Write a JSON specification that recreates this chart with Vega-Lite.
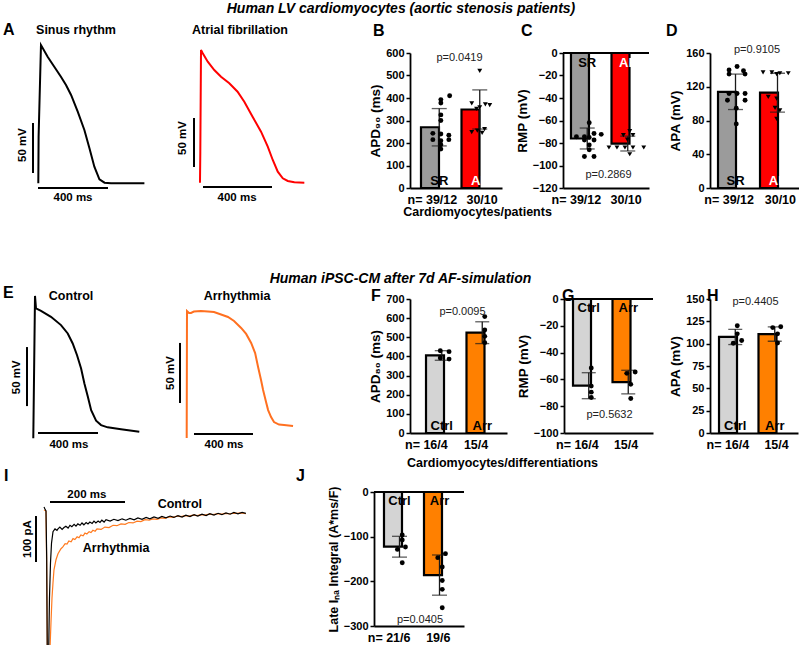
{
"$schema": "https://vega.github.io/schema/vega-lite/v6.json",
"background": "white",
"padding": {"left": 2, "top": 2, "right": 0, "bottom": 0},
"spacing": -1,
"config": {
  "font": "Liberation Sans",
  "view": {"stroke": null},
  "axis": {"domainColor": "black", "tickColor": "black", "labelColor": "black", "titleColor": "black", "labelFontWeight": "bold", "titleFontWeight": "bold", "grid": false, "domainWidth": 1.8, "tickWidth": 1.5, "labelFont": "Liberation Sans", "titleFont": "Liberation Sans"},
  "axisY": {"tickSize": 4, "labelFontSize": 11, "titleFontSize": 13.5, "labelPadding": 2, "titlePadding": 3},
  "axisX": {"ticks": false, "labelAngle": 0, "labelFontSize": 12.5, "labelPadding": 5, "labelAlign": "right", "titleFontSize": 12.5, "titlePadding": 0},
  "title": {"font": "Liberation Sans", "fontWeight": "bold", "color": "black"},
  "text": {"font": "Liberation Sans", "fontWeight": "bold", "color": "black", "baseline": "middle"}
},
"vconcat": [
{
  "title": {"text": "Human LV cardiomyocytes (aortic stenosis patients)", "anchor": "middle", "frame": "bounds", "fontSize": 14, "fontStyle": "italic", "offset": 6},
  "bounds": "flush",
  "spacing": 61,
  "hconcat": [
    {
      "width": 89, "height": 135,
      "encoding": {
        "x": {"field": "t", "type": "quantitative", "scale": {"domain": [-68.6, 440], "nice": false, "zero": false}, "axis": null},
        "y": {"field": "v", "type": "quantitative", "scale": {"domain": [-85, 50], "nice": false, "zero": false}, "axis": null}
      },
      "layer": [
        {"data": {"values": [{"t":1.7,"v":-80.3},{"t":3.4,"v":-34},{"t":17,"v":58},{"t":55,"v":46.3},{"t":93,"v":36.3},{"t":131,"v":26.3},{"t":160,"v":18},{"t":189,"v":8},{"t":227,"v":-8.7},{"t":265,"v":-27},{"t":294,"v":-45.3},{"t":322,"v":-63.7},{"t":351,"v":-76.3},{"t":380,"v":-79.7},{"t":417,"v":-80.3},{"t":500,"v":-80.3},{"t":608,"v":-80.3}]},
         "mark": {"type": "line", "color": "black", "strokeWidth": 2}},
        {"data": {"values": [{"t":-28.6,"t2":-28.6,"v":-70,"v2":-20},{"t":0,"t2":400,"v":-85,"v2":-85}]},
         "mark": {"type": "rule", "color": "black", "strokeWidth": 2},
         "encoding": {"x2": {"field": "t2"}, "y2": {"field": "v2"}}},
        {"data": {"values": [{"t":217,"v":73,"label":"Sinus rhythm"}]},
         "mark": {"type": "text", "fontSize": 12.5}, "encoding": {"text": {"field": "label"}}},
        {"data": {"values": [{"t":200,"v":-95,"label":"400 ms"}]},
         "mark": {"type": "text", "fontSize": 11.5}, "encoding": {"text": {"field": "label"}}},
        {"data": {"values": [{"t":-86,"v":-42,"label":"50 mV"}]},
         "mark": {"type": "text", "fontSize": 11.5, "angle": 270}, "encoding": {"text": {"field": "label"}}},
        {"data": {"values": [{"t":-200,"v":73,"label":"A"}]},
         "mark": {"type": "text", "fontSize": 16, "align": "left"}, "encoding": {"text": {"field": "label"}}}
      ]
    },
    {
      "width": 173, "height": 135,
      "encoding": {
        "x": {"field": "t", "type": "quantitative", "scale": {"domain": [-145, 858], "nice": false, "zero": false}, "axis": null},
        "y": {"field": "v", "type": "quantitative", "scale": {"domain": [-85, 50], "nice": false, "zero": false}, "axis": null}
      },
      "layer": [
        {"data": {"values": [{"t":-6,"v":-79.7},{"t":-4,"v":-48.7},{"t":0,"v":53},{"t":10,"v":49.7},{"t":39,"v":41.3},{"t":77,"v":33},{"t":116,"v":26.3},{"t":164,"v":19.7},{"t":212,"v":11.3},{"t":251,"v":1.3},{"t":299,"v":-13.7},{"t":348,"v":-28.7},{"t":387,"v":-43.7},{"t":416,"v":-57},{"t":445,"v":-68.7},{"t":474,"v":-75.3},{"t":503,"v":-78},{"t":541,"v":-79.3},{"t":599,"v":-79.7}]},
         "mark": {"type": "line", "color": "#ff0000", "strokeWidth": 2}},
        {"data": {"values": [{"t":-40.6,"t2":-40.6,"v":-64,"v2":-15},{"t":11.6,"t2":411.6,"v":-84,"v2":-84}]},
         "mark": {"type": "rule", "color": "black", "strokeWidth": 2},
         "encoding": {"x2": {"field": "t2"}, "y2": {"field": "v2"}}},
        {"data": {"values": [{"t":226,"v":73,"label":"Atrial fibrillation"}]},
         "mark": {"type": "text", "fontSize": 12.5}, "encoding": {"text": {"field": "label"}}},
        {"data": {"values": [{"t":209,"v":-95,"label":"400 ms"}]},
         "mark": {"type": "text", "fontSize": 11.5}, "encoding": {"text": {"field": "label"}}},
        {"data": {"values": [{"t":-104,"v":-35,"label":"50 mV"}]},
         "mark": {"type": "text", "fontSize": 11.5, "angle": 270}, "encoding": {"text": {"field": "label"}}}
      ]
    },
    {
      "width": 92, "height": 135,
      "encoding": {"y": {"field": "value", "type": "quantitative", "scale": {"domain": [0, 600], "nice": false}, "axis": {"title": "APD₉₀ (ms)", "values": [0,100,200,300,400,500,600]}}},
      "layer": [
        {"data": {"values": [{"group":"SR","value":270,"sd":83},{"group":"AF","value":349,"sd":87}]},
         "mark": {"type": "bar", "stroke": "black", "strokeWidth": 2.2},
         "encoding": {
           "x": {"field": "group", "type": "nominal", "sort": ["SR","AF"], "scale": {"domain": ["SR","AF"], "paddingInner": 0.099, "paddingOuter": 0.185, "align": 0.733}, "axis": {"title": "Cardiomyocytes/patients", "titleX": 67, "labelOffset": 18, "labelExpr": "datum.value === 'SR' ? 'n= 39/12' : '30/10'"}},
           "color": {"field": "group", "type": "nominal", "scale": {"domain": ["SR","AF","Ctrl","Arr"], "range": ["#9b9b9b","#ff0000","#d4d4d4","#ff8000"]}, "legend": null}}},
        {"data": {"values": [{"group":"SR","value":270,"sd":83},{"group":"AF","value":349,"sd":87}]},
         "mark": {"type": "errorbar", "color": "#1a1a1a", "thickness": 1.3, "ticks": {"size": 15}},
         "encoding": {"x": {"field": "group", "type": "nominal"}, "yError": {"field": "sd"}}},
        {"data": {"values": [
           {"group":"SR","value":410,"col":1.3},{"group":"SR","value":393,"col":0.2},{"group":"SR","value":378,"col":0.2},{"group":"SR","value":325,"col":0.2},{"group":"SR","value":300,"col":0.2},{"group":"SR","value":243,"col":-0.8},{"group":"SR","value":240,"col":0.2},{"group":"SR","value":235,"col":1.2},{"group":"SR","value":215,"col":-0.8},{"group":"SR","value":210,"col":0.2},{"group":"SR","value":215,"col":1.2},{"group":"SR","value":192,"col":0.2},{"group":"SR","value":173,"col":0.2},
           {"group":"AF","value":521,"col":0},{"group":"AF","value":376,"col":-1},{"group":"AF","value":372,"col":0.7},{"group":"AF","value":368,"col":1.25},{"group":"AF","value":358,"col":0},{"group":"AF","value":352,"col":-0.4},{"group":"AF","value":262,"col":0.6},{"group":"AF","value":255,"col":-0.3},{"group":"AF","value":248,"col":-1},{"group":"AF","value":245,"col":0.3}]},
         "mark": {"type": "point", "filled": true, "color": "black", "opacity": 1, "size": 24},
         "encoding": {
           "x": {"field": "group", "type": "nominal", "bandPosition": 0},
           "xOffset": {"field": "col", "type": "quantitative", "scale": {"domain": [-3, 3], "range": [-5.75, 42.25]}},
           "shape": {"field": "group", "type": "nominal", "scale": {"domain": ["SR","AF"], "range": ["circle","triangle-down"]}, "legend": null}}},
        {"data": {"values": [{"group":"SR","value":0}]},
         "mark": {"type": "text", "fontSize": 13, "baseline": "alphabetic", "dy": -3, "color": "black"},
         "encoding": {"x": {"field": "group", "type": "nominal"}, "text": {"field": "group"}}},
        {"data": {"values": [{"group":"AF","value":0}]},
         "mark": {"type": "text", "fontSize": 13, "baseline": "alphabetic", "dy": -3, "color": "white"},
         "encoding": {"x": {"field": "group", "type": "nominal"}, "text": {"value": "AF"}}},
        {"data": {"values": [{"p":"p=0.0419","value":578}]},
         "mark": {"type": "text", "fontWeight": "normal", "fontSize": 11, "dx": -2, "color": "#222222"},
         "encoding": {"x": {"datum": "AF", "type": "nominal", "bandPosition": 0}, "text": {"field": "p"}}},
        {"data": {"values": [{"label":"B","value":698}]},
         "mark": {"type": "text", "fontSize": 16, "align": "left", "dx": -48},
         "encoding": {"x": {"datum": "SR", "type": "nominal", "bandPosition": 0}, "text": {"field": "label"}}}
      ]
    },
    {
      "width": 86, "height": 135,
      "encoding": {"y": {"field": "value", "type": "quantitative", "scale": {"domain": [-120, 0], "nice": false}, "axis": {"title": "RMP (mV)", "values": [0,-20,-40,-60,-80,-100,-120]}}},
      "layer": [
        {"data": {"values": [{"group":"SR","value":-76,"sd":9.3},{"group":"AF","value":-80.5,"sd":6.6}]},
         "mark": {"type": "bar", "stroke": "black", "strokeWidth": 2.2},
         "encoding": {
           "x": {"field": "group", "type": "nominal", "sort": ["SR","AF"], "scale": {"domain": ["SR","AF"], "paddingInner": 0.198, "paddingOuter": 0.16, "align": 0.615}, "axis": {"title": null, "labelOffset": 14, "labelExpr": "datum.value === 'SR' ? 'n= 39/12' : '30/10'"}},
           "color": {"field": "group", "type": "nominal", "scale": {"domain": ["SR","AF","Ctrl","Arr"], "range": ["#9b9b9b","#ff0000","#d4d4d4","#ff8000"]}, "legend": null}}},
        {"data": {"values": [{"value":0}]}, "mark": {"type": "rule", "color": "black", "strokeWidth": 1.8}, "encoding": {}},
        {"data": {"values": [{"group":"SR","value":-76,"sd":9.3},{"group":"AF","value":-80.5,"sd":6.6}]},
         "mark": {"type": "errorbar", "color": "#1a1a1a", "thickness": 1.3, "ticks": {"size": 15}},
         "encoding": {"x": {"field": "group", "type": "nominal"}, "yError": {"field": "sd"}}},
        {"data": {"values": [
           {"group":"SR","value":-62,"col":0},{"group":"SR","value":-74.4,"col":-1.6},{"group":"SR","value":-74.4,"col":-0.6},{"group":"SR","value":-71.5,"col":0.6},{"group":"SR","value":-72.3,"col":1.5},{"group":"SR","value":-77.3,"col":-0.6},{"group":"SR","value":-77.3,"col":0.6},{"group":"SR","value":-81.7,"col":0},{"group":"SR","value":-86,"col":0},{"group":"SR","value":-92,"col":-0.6},{"group":"SR","value":-92,"col":0.6},{"group":"SR","value":-75,"col":0},
           {"group":"AF","value":-69.5,"col":0},{"group":"AF","value":-73,"col":-0.8},{"group":"AF","value":-73,"col":0.4},{"group":"AF","value":-84,"col":-2.6},{"group":"AF","value":-84,"col":-1.6},{"group":"AF","value":-84,"col":-0.6},{"group":"AF","value":-84,"col":0.4},{"group":"AF","value":-84,"col":1.75},{"group":"AF","value":-90,"col":0},{"group":"AF","value":-77,"col":-0.3}]},
         "mark": {"type": "point", "filled": true, "color": "black", "opacity": 1, "size": 24},
         "encoding": {
           "x": {"field": "group", "type": "nominal", "bandPosition": 0},
           "xOffset": {"field": "col", "type": "quantitative", "scale": {"domain": [-3, 3], "range": [-7.75, 40.25]}},
           "shape": {"field": "group", "type": "nominal", "scale": {"domain": ["SR","AF"], "range": ["circle","triangle-down"]}, "legend": null}}},
        {"data": {"values": [{"group":"SR","value":0}]},
         "mark": {"type": "text", "fontSize": 13, "baseline": "top", "dy": 4, "color": "black"},
         "encoding": {"x": {"field": "group", "type": "nominal"}, "text": {"field": "group"}}},
        {"data": {"values": [{"group":"AF","value":0}]},
         "mark": {"type": "text", "fontSize": 13, "baseline": "top", "dy": 4, "color": "white"},
         "encoding": {"x": {"field": "group", "type": "nominal"}, "text": {"value": "AF"}}},
        {"data": {"values": [{"p":"p=0.2869","value":-108.4}]},
         "mark": {"type": "text", "fontWeight": "normal", "fontSize": 11, "dx": -3, "color": "#222222"},
         "encoding": {"x": {"datum": "AF", "type": "nominal", "bandPosition": 0}, "text": {"field": "p"}}},
        {"data": {"values": [{"label":"C","value":19.6}]},
         "mark": {"type": "text", "fontSize": 16, "align": "left", "dx": -50},
         "encoding": {"x": {"datum": "SR", "type": "nominal", "bandPosition": 0}, "text": {"field": "label"}}}
      ]
    },
    {
      "width": 89, "height": 135,
      "encoding": {"y": {"field": "value", "type": "quantitative", "scale": {"domain": [0, 160], "nice": false}, "axis": {"title": "APA (mV)", "values": [0,40,80,120,160]}}},
      "layer": [
        {"data": {"values": [{"group":"SR","value":114,"sd":21},{"group":"AF","value":113,"sd":23}]},
         "mark": {"type": "bar", "stroke": "black", "strokeWidth": 2.2},
         "encoding": {
           "x": {"field": "group", "type": "nominal", "sort": ["SR","AF"], "scale": {"domain": ["SR","AF"], "paddingInner": 0.167, "paddingOuter": 0.143, "align": 0.667}, "axis": {"title": null, "labelOffset": 18.5, "labelExpr": "datum.value === 'SR' ? 'n= 39/12' : '30/10'"}},
           "color": {"field": "group", "type": "nominal", "scale": {"domain": ["SR","AF","Ctrl","Arr"], "range": ["#9b9b9b","#ff0000","#d4d4d4","#ff8000"]}, "legend": null}}},
        {"data": {"values": [{"group":"SR","value":114,"sd":21},{"group":"AF","value":113,"sd":23}]},
         "mark": {"type": "errorbar", "color": "#1a1a1a", "thickness": 1.3, "ticks": {"size": 15}},
         "encoding": {"x": {"field": "group", "type": "nominal"}, "yError": {"field": "sd"}}},
        {"data": {"values": [
           {"group":"SR","value":144,"col":0.1},{"group":"SR","value":140,"col":-0.9},{"group":"SR","value":139,"col":0.9},{"group":"SR","value":135,"col":-0.9},{"group":"SR","value":135,"col":1.1},{"group":"SR","value":112,"col":-0.9},{"group":"SR","value":112,"col":0.1},{"group":"SR","value":112,"col":1.1},{"group":"SR","value":104,"col":-1.1},{"group":"SR","value":104,"col":1.1},{"group":"SR","value":94.5,"col":0},{"group":"SR","value":76,"col":0},
           {"group":"AF","value":137,"col":-1.9},{"group":"AF","value":137,"col":-0.8},{"group":"AF","value":136,"col":0.2},{"group":"AF","value":136,"col":1.25},{"group":"AF","value":135,"col":-0.2},{"group":"AF","value":108,"col":-1.25},{"group":"AF","value":106,"col":-0.2},{"group":"AF","value":95,"col":-0.4},{"group":"AF","value":92,"col":0.2},{"group":"AF","value":82,"col":-0.2}]},
         "mark": {"type": "point", "filled": true, "color": "black", "opacity": 1, "size": 24},
         "encoding": {
           "x": {"field": "group", "type": "nominal", "bandPosition": 0},
           "xOffset": {"field": "col", "type": "quantitative", "scale": {"domain": [-3, 3], "range": [-6.5, 41.5]}},
           "shape": {"field": "group", "type": "nominal", "scale": {"domain": ["SR","AF"], "range": ["circle","triangle-down"]}, "legend": null}}},
        {"data": {"values": [{"group":"SR","value":0}]},
         "mark": {"type": "text", "fontSize": 13, "baseline": "alphabetic", "dy": -3, "color": "black"},
         "encoding": {"x": {"field": "group", "type": "nominal"}, "text": {"field": "group"}}},
        {"data": {"values": [{"group":"AF","value":0}]},
         "mark": {"type": "text", "fontSize": 13, "baseline": "alphabetic", "dy": -3, "color": "white"},
         "encoding": {"x": {"field": "group", "type": "nominal"}, "text": {"value": "AF"}}},
        {"data": {"values": [{"p":"p=0.9105","value":163.6}]},
         "mark": {"type": "text", "fontWeight": "normal", "fontSize": 11, "dx": -3, "color": "#222222"},
         "encoding": {"x": {"datum": "AF", "type": "nominal", "bandPosition": 0}, "text": {"field": "p"}}},
        {"data": {"values": [{"label":"D","value":186}]},
         "mark": {"type": "text", "fontSize": 16, "align": "left", "dx": -52},
         "encoding": {"x": {"datum": "SR", "type": "nominal", "bandPosition": 0}, "text": {"field": "label"}}}
      ]
    }
  ]
},
{
  "title": {"text": ["", "Human iPSC-CM after 7d AF-simulation"], "lineHeight": 54, "anchor": "middle", "frame": "bounds", "fontSize": 14, "fontStyle": "italic", "offset": -1},
  "bounds": "flush",
  "spacing": 57,
  "hconcat": [
    {
      "width": 83, "height": 134,
      "encoding": {
        "x": {"field": "t", "type": "quantitative", "scale": {"domain": [-51.3, 502], "nice": false, "zero": false}, "axis": null},
        "y": {"field": "v", "type": "quantitative", "scale": {"domain": [-84.2, 29.3], "nice": false, "zero": false}, "axis": null}
      },
      "layer": [
        {"data": {"values": [{"t":-2.7,"v":-88.7},{"t":8.7,"v":31.9},{"t":15.3,"v":21.4},{"t":48.7,"v":19.3},{"t":115,"v":14.2},{"t":182,"v":7.2},{"t":227,"v":0.1},{"t":260,"v":-8.4},{"t":289,"v":-18.3},{"t":316,"v":-29.6},{"t":338,"v":-42.3},{"t":361,"v":-53.6},{"t":383,"v":-64.9},{"t":416,"v":-73.8},{"t":449,"v":-77.5},{"t":493,"v":-79.4},{"t":582,"v":-81.1},{"t":704,"v":-83.1}]},
         "mark": {"type": "line", "color": "black", "strokeWidth": 2}},
        {"data": {"values": [{"t":-44.7,"t2":-44.7,"v":-61.4,"v2":-11.4},{"t":28.7,"t2":428.7,"v":-84.2,"v2":-84.2}]},
         "mark": {"type": "rule", "color": "black", "strokeWidth": 2},
         "encoding": {"x2": {"field": "t2"}, "y2": {"field": "v2"}}},
        {"data": {"values": [{"t":249,"v":31.9,"label":"Control"}]},
         "mark": {"type": "text", "fontSize": 12.5}, "encoding": {"text": {"field": "label"}}},
        {"data": {"values": [{"t":235,"v":-94.4,"label":"400 ms"}]},
         "mark": {"type": "text", "fontSize": 11.5}, "encoding": {"text": {"field": "label"}}},
        {"data": {"values": [{"t":-111,"v":-37,"label":"50 mV"}]},
         "mark": {"type": "text", "fontSize": 11.5, "angle": 270}, "encoding": {"text": {"field": "label"}}},
        {"data": {"values": [{"t":-204.7,"v":34.4,"label":"E"}]},
         "mark": {"type": "text", "fontSize": 16, "align": "left"}, "encoding": {"text": {"field": "label"}}}
      ]
    },
    {
      "width": 187, "height": 134,
      "encoding": {
        "x": {"field": "t", "type": "quantitative", "scale": {"domain": [-140.3, 1127.5], "nice": false, "zero": false}, "axis": null},
        "y": {"field": "v", "type": "quantitative", "scale": {"domain": [-85.8, 25.8], "nice": false, "zero": false}, "axis": null}
      },
      "layer": [
        {"data": {"values": [{"t":0,"v":-90},{"t":2,"v":15.8},{"t":15.6,"v":14.2},{"t":29,"v":14.2},{"t":49,"v":15.4},{"t":97,"v":15.8},{"t":144,"v":15.4},{"t":185,"v":15},{"t":233,"v":12.9},{"t":280,"v":10.8},{"t":321,"v":7.5},{"t":369,"v":1.7},{"t":403,"v":-3.3},{"t":437,"v":-10.8},{"t":464,"v":-19.2},{"t":484,"v":-30.8},{"t":504,"v":-41.7},{"t":518,"v":-50},{"t":538,"v":-60},{"t":552,"v":-66.7},{"t":572,"v":-72.5},{"t":592,"v":-76.7},{"t":626,"v":-78.8},{"t":660,"v":-79.2},{"t":721,"v":-80}]},
         "mark": {"type": "line", "color": "#ff7020", "strokeWidth": 2}},
        {"data": {"values": [{"t":-45.4,"t2":-45.4,"v":-60.8,"v2":-10.8},{"t":49.5,"t2":449.5,"v":-86.7,"v2":-86.7}]},
         "mark": {"type": "rule", "color": "black", "strokeWidth": 2},
         "encoding": {"x2": {"field": "t2"}, "y2": {"field": "v2"}}},
        {"data": {"values": [{"t":341,"v":28.3,"label":"Arrhythmia"}]},
         "mark": {"type": "text", "fontSize": 12.5}, "encoding": {"text": {"field": "label"}}},
        {"data": {"values": [{"t":253,"v":-95.8,"label":"400 ms"}]},
         "mark": {"type": "text", "fontSize": 11.5}, "encoding": {"text": {"field": "label"}}},
        {"data": {"values": [{"t":-106,"v":-35.8,"label":"50 mV"}]},
         "mark": {"type": "text", "fontSize": 11.5, "angle": 270}, "encoding": {"text": {"field": "label"}}}
      ]
    },
    {
      "width": 97, "height": 134,
      "encoding": {"y": {"field": "value", "type": "quantitative", "scale": {"domain": [0, 700], "nice": false}, "axis": {"title": "APD₈₀ (ms)", "values": [0,100,200,300,400,500,600,700]}}},
      "layer": [
        {"data": {"values": [{"group":"Ctrl","value":405,"sd":25},{"group":"Arr","value":524,"sd":57}]},
         "mark": {"type": "bar", "stroke": "black", "strokeWidth": 2.2},
         "encoding": {
           "x": {"field": "group", "type": "nominal", "sort": ["Ctrl","Arr"], "scale": {"domain": ["Ctrl","Arr"], "paddingInner": 0.222, "paddingOuter": 0.309, "align": 0.64}, "axis": {"title": "Cardiomyocytes/differentiations", "titleX": 92, "titlePadding": 6, "labelOffset": 6, "labelExpr": "datum.value === 'Ctrl' ? 'n= 16/4' : '15/4'"}},
           "color": {"field": "group", "type": "nominal", "scale": {"domain": ["SR","AF","Ctrl","Arr"], "range": ["#9b9b9b","#ff0000","#d4d4d4","#ff8000"]}, "legend": null}}},
        {"data": {"values": [{"group":"Ctrl","value":405,"sd":25},{"group":"Arr","value":524,"sd":57}]},
         "mark": {"type": "errorbar", "color": "#1a1a1a", "thickness": 1.3, "ticks": {"size": 14}},
         "encoding": {"x": {"field": "group", "type": "nominal"}, "yError": {"field": "sd"}}},
        {"data": {"values": [
           {"group":"Ctrl","value":430,"col":-0.5},{"group":"Ctrl","value":425,"col":0.6},{"group":"Ctrl","value":392,"col":-0.5},{"group":"Ctrl","value":386,"col":0.6},
           {"group":"Arr","value":608,"col":0},{"group":"Arr","value":538,"col":0},{"group":"Arr","value":505,"col":0},{"group":"Arr","value":472,"col":0}]},
         "mark": {"type": "point", "filled": true, "color": "black", "opacity": 1, "size": 24, "shape": "circle"},
         "encoding": {
           "x": {"field": "group", "type": "nominal", "bandPosition": 0},
           "xOffset": {"field": "col", "type": "quantitative", "scale": {"domain": [-3, 3], "range": [-8.25, 39.75]}}}},
        {"data": {"values": [{"group":"Ctrl","value":0},{"group":"Arr","value":0}]},
         "mark": {"type": "text", "fontSize": 13, "baseline": "alphabetic", "dy": -3},
         "encoding": {"x": {"field": "group", "type": "nominal"}, "text": {"field": "group"}}},
        {"data": {"values": [{"p":"p=0.0095","value":632}]},
         "mark": {"type": "text", "fontWeight": "normal", "fontSize": 11, "dx": -4, "color": "#222222"},
         "encoding": {"x": {"datum": "Arr", "type": "nominal", "bandPosition": 0}, "text": {"field": "p"}}},
        {"data": {"values": [{"label":"F","value":715}]},
         "mark": {"type": "text", "fontSize": 16, "align": "left", "dx": -55},
         "encoding": {"x": {"datum": "Ctrl", "type": "nominal", "bandPosition": 0}, "text": {"field": "label"}}}
      ]
    },
    {
      "width": 89, "height": 134,
      "encoding": {"y": {"field": "value", "type": "quantitative", "scale": {"domain": [-100, 0], "nice": false}, "axis": {"title": "RMP (mV)", "values": [0,-20,-40,-60,-80,-100]}}},
      "layer": [
        {"data": {"values": [{"group":"Ctrl","value":-64.7,"sd":9.7},{"group":"Arr","value":-62,"sd":8.8}]},
         "mark": {"type": "bar", "stroke": "black", "strokeWidth": 2.2},
         "encoding": {
           "x": {"field": "group", "type": "nominal", "sort": ["Ctrl","Arr"], "scale": {"domain": ["Ctrl","Arr"], "paddingInner": 0.203, "paddingOuter": 0.228, "align": 0.5}, "axis": {"title": null, "labelOffset": 10, "labelExpr": "datum.value === 'Ctrl' ? 'n= 16/4' : '15/4'"}},
           "color": {"field": "group", "type": "nominal", "scale": {"domain": ["SR","AF","Ctrl","Arr"], "range": ["#9b9b9b","#ff0000","#d4d4d4","#ff8000"]}, "legend": null}}},
        {"data": {"values": [{"value":0}]}, "mark": {"type": "rule", "color": "black", "strokeWidth": 1.8}, "encoding": {}},
        {"data": {"values": [{"group":"Ctrl","value":-64.7,"sd":9.7},{"group":"Arr","value":-62,"sd":8.8}]},
         "mark": {"type": "errorbar", "color": "#1a1a1a", "thickness": 1.3, "ticks": {"size": 14}},
         "encoding": {"x": {"field": "group", "type": "nominal"}, "yError": {"field": "sd"}}},
        {"data": {"values": [
           {"group":"Ctrl","value":-51.5,"col":0},{"group":"Ctrl","value":-65,"col":0},{"group":"Ctrl","value":-69.5,"col":0},{"group":"Ctrl","value":-73.5,"col":0},
           {"group":"Arr","value":-55.5,"col":-0.5},{"group":"Arr","value":-54.5,"col":0.55},{"group":"Arr","value":-63.7,"col":0},{"group":"Arr","value":-74.3,"col":0}]},
         "mark": {"type": "point", "filled": true, "color": "black", "opacity": 1, "size": 24, "shape": "circle"},
         "encoding": {
           "x": {"field": "group", "type": "nominal", "bandPosition": 0},
           "xOffset": {"field": "col", "type": "quantitative", "scale": {"domain": [-3, 3], "range": [-8.25, 39.75]}}}},
        {"data": {"values": [{"group":"Ctrl","value":0},{"group":"Arr","value":0}]},
         "mark": {"type": "text", "fontSize": 13, "baseline": "top", "dy": 3},
         "encoding": {"x": {"field": "group", "type": "nominal"}, "text": {"field": "group"}}},
        {"data": {"values": [{"p":"p=0.5632","value":-86.6}]},
         "mark": {"type": "text", "fontWeight": "normal", "fontSize": 11, "dx": -3, "color": "#222222"},
         "encoding": {"x": {"datum": "Arr", "type": "nominal", "bandPosition": 0}, "text": {"field": "p"}}},
        {"data": {"values": [{"label":"G","value":2.2}]},
         "mark": {"type": "text", "fontSize": 16, "align": "left", "dx": -11},
         "encoding": {"x": {"datum": "Ctrl", "type": "nominal", "bandPosition": 0}, "text": {"field": "label"}}}
      ]
    },
    {
      "width": 88, "height": 134,
      "encoding": {"y": {"field": "value", "type": "quantitative", "scale": {"domain": [0, 150], "nice": false}, "axis": {"title": "APA (mV)", "values": [0,25,50,75,100,125,150]}}},
      "layer": [
        {"data": {"values": [{"group":"Ctrl","value":107.5,"sd":8.5},{"group":"Arr","value":110.7,"sd":8}]},
         "mark": {"type": "bar", "stroke": "black", "strokeWidth": 2.2},
         "encoding": {
           "x": {"field": "group", "type": "nominal", "sort": ["Ctrl","Arr"], "scale": {"domain": ["Ctrl","Arr"], "paddingInner": 0.177, "paddingOuter": 0.203, "align": 0.5625}, "axis": {"title": null, "labelOffset": 14, "labelExpr": "datum.value === 'Ctrl' ? 'n= 16/4' : '15/4'"}},
           "color": {"field": "group", "type": "nominal", "scale": {"domain": ["SR","AF","Ctrl","Arr"], "range": ["#9b9b9b","#ff0000","#d4d4d4","#ff8000"]}, "legend": null}}},
        {"data": {"values": [{"group":"Ctrl","value":107.5,"sd":8.5},{"group":"Arr","value":110.7,"sd":8}]},
         "mark": {"type": "errorbar", "color": "#1a1a1a", "thickness": 1.3, "ticks": {"size": 14}},
         "encoding": {"x": {"field": "group", "type": "nominal"}, "yError": {"field": "sd"}}},
        {"data": {"values": [
           {"group":"Ctrl","value":120,"col":0},{"group":"Ctrl","value":111,"col":0},{"group":"Ctrl","value":100.5,"col":-0.5},{"group":"Ctrl","value":103.5,"col":0.55},
           {"group":"Arr","value":118,"col":-0.5},{"group":"Arr","value":119,"col":0.5},{"group":"Arr","value":111,"col":0.1},{"group":"Arr","value":100.7,"col":0.1}]},
         "mark": {"type": "point", "filled": true, "color": "black", "opacity": 1, "size": 24, "shape": "circle"},
         "encoding": {
           "x": {"field": "group", "type": "nominal", "bandPosition": 0},
           "xOffset": {"field": "col", "type": "quantitative", "scale": {"domain": [-3, 3], "range": [-7.75, 40.25]}}}},
        {"data": {"values": [{"group":"Ctrl","value":0},{"group":"Arr","value":0}]},
         "mark": {"type": "text", "fontSize": 13, "baseline": "alphabetic", "dy": -3},
         "encoding": {"x": {"field": "group", "type": "nominal"}, "text": {"field": "group"}}},
        {"data": {"values": [{"p":"p=0.4405","value":147}]},
         "mark": {"type": "text", "fontWeight": "normal", "fontSize": 11, "dx": -3, "color": "#222222"},
         "encoding": {"x": {"datum": "Arr", "type": "nominal", "bandPosition": 0}, "text": {"field": "p"}}},
        {"data": {"values": [{"label":"H","value":153.4}]},
         "mark": {"type": "text", "fontSize": 16, "align": "left", "dx": -12},
         "encoding": {"x": {"datum": "Ctrl", "type": "nominal", "bandPosition": 0}, "text": {"field": "label"}}}
      ]
    }
  ]
},
{
  "bounds": "flush",
  "spacing": 40,
  "hconcat": [
    {
      "width": 308, "height": 134,
      "encoding": {
        "x": {"field": "t", "type": "quantitative", "scale": {"domain": [-53.3, 768], "nice": false, "zero": false}, "axis": null},
        "y": {"field": "v", "type": "quantitative", "scale": {"domain": [-250, 41.3], "nice": false, "zero": false}, "axis": null}
      },
      "layer": [
        {"data": {"values": [{"t":-5.3,"v":2.2},{"t":0,"v":0},{"t":1.9,"v":-124},{"t":4,"v":-330},{"t":9.3,"v":-330},{"t":13.3,"v":-243},{"t":16,"v":-189},{"t":18.7,"v":-156},{"t":21.3,"v":-128},{"t":26.7,"v":-106},{"t":32,"v":-93},{"t":40,"v":-82},{"t":45,"v":-78},{"t":51,"v":-71},{"t":56,"v":-72},{"t":61,"v":-65},{"t":67,"v":-67},{"t":72,"v":-60},{"t":77,"v":-62},{"t":83,"v":-56},{"t":88,"v":-58},{"t":93,"v":-52},{"t":99,"v":-54},{"t":104,"v":-48},{"t":109,"v":-50},{"t":115,"v":-45},{"t":120,"v":-47},{"t":125,"v":-42},{"t":131,"v":-44},{"t":136,"v":-39},{"t":147,"v":-40},{"t":157,"v":-35},{"t":168,"v":-36},{"t":179,"v":-31},{"t":189,"v":-32},{"t":200,"v":-28},{"t":211,"v":-29},{"t":221,"v":-25},{"t":232,"v":-26},{"t":243,"v":-22},{"t":253,"v":-23},{"t":264,"v":-19},{"t":275,"v":-20},{"t":285,"v":-17},{"t":296,"v":-18},{"t":307,"v":-15},{"t":317,"v":-16},{"t":328,"v":-13},{"t":339,"v":-14},{"t":349,"v":-11},{"t":360,"v":-12},{"t":371,"v":-10},{"t":381,"v":-11},{"t":392,"v":-9},{"t":403,"v":-10},{"t":413,"v":-8},{"t":424,"v":-9},{"t":435,"v":-7},{"t":445,"v":-8},{"t":456,"v":-6},{"t":467,"v":-7},{"t":477,"v":-5},{"t":488,"v":-6},{"t":499,"v":-5},{"t":509,"v":-5},{"t":520,"v":-4},{"t":533,"v":-6}]},
         "mark": {"type": "line", "color": "#ff7a1f", "strokeWidth": 1.2}},
        {"data": {"values": [{"t":-5.3,"v":8.7},{"t":-2.7,"v":4.3},{"t":0,"v":0},{"t":1.9,"v":-102},{"t":3.5,"v":-330},{"t":6.7,"v":-330},{"t":9.3,"v":-189},{"t":12,"v":-113},{"t":14.7,"v":-70},{"t":18.7,"v":-45},{"t":24,"v":-39},{"t":29.3,"v":-42},{"t":32,"v":-39},{"t":37,"v":-35},{"t":43,"v":-40},{"t":48,"v":-36},{"t":53,"v":-33},{"t":59,"v":-37},{"t":64,"v":-31},{"t":69,"v":-34},{"t":75,"v":-29},{"t":80,"v":-33},{"t":85,"v":-28},{"t":91,"v":-31},{"t":96,"v":-26},{"t":101,"v":-30},{"t":107,"v":-25},{"t":112,"v":-28},{"t":117,"v":-24},{"t":123,"v":-27},{"t":128,"v":-22},{"t":133,"v":-26},{"t":139,"v":-22},{"t":144,"v":-25},{"t":149,"v":-20},{"t":155,"v":-24},{"t":160,"v":-19},{"t":171,"v":-22},{"t":181,"v":-18},{"t":192,"v":-21},{"t":203,"v":-17},{"t":213,"v":-20},{"t":224,"v":-16},{"t":235,"v":-19},{"t":245,"v":-15},{"t":256,"v":-18},{"t":267,"v":-14},{"t":277,"v":-17},{"t":288,"v":-13},{"t":299,"v":-16},{"t":309,"v":-12},{"t":320,"v":-15},{"t":331,"v":-11},{"t":341,"v":-14},{"t":352,"v":-10},{"t":363,"v":-13},{"t":373,"v":-9},{"t":384,"v":-12},{"t":395,"v":-8},{"t":405,"v":-11},{"t":416,"v":-7},{"t":427,"v":-10},{"t":437,"v":-6},{"t":448,"v":-9},{"t":459,"v":-5},{"t":469,"v":-8},{"t":480,"v":-4},{"t":491,"v":-7},{"t":501,"v":-3},{"t":512,"v":-6},{"t":523,"v":-3},{"t":533,"v":-5}]},
         "mark": {"type": "line", "color": "black", "strokeWidth": 1.2}},
        {"data": {"values": [{"t":-26.7,"t2":-26.7,"v":-10.9,"v2":-110.9},{"t":10.7,"t2":210.7,"v":19.6,"v2":19.6}]},
         "mark": {"type": "rule", "color": "black", "strokeWidth": 2},
         "encoding": {"x2": {"field": "t2"}, "y2": {"field": "v2"}}},
        {"data": {"values": [{"t":357,"v":15.2,"label":"Control"},{"t":187,"v":-80.4,"label":"Arrhythmia"}]},
         "mark": {"type": "text", "fontSize": 12.5}, "encoding": {"text": {"field": "label"}}},
        {"data": {"values": [{"t":109,"v":34.8,"label":"200 ms"}]},
         "mark": {"type": "text", "fontSize": 11.5}, "encoding": {"text": {"field": "label"}}},
        {"data": {"values": [{"t":-48,"v":-61,"label":"100 pA"}]},
         "mark": {"type": "text", "fontSize": 11.5, "angle": 270}, "encoding": {"text": {"field": "label"}}},
        {"data": {"values": [{"t":-112,"v":76,"label":"I"}]},
         "mark": {"type": "text", "fontSize": 16, "align": "left"}, "encoding": {"text": {"field": "label"}}}
      ]
    },
    {
      "width": 90, "height": 134,
      "encoding": {"y": {"field": "value", "type": "quantitative", "scale": {"domain": [-300, 0], "nice": false}, "axis": {"title": "Late Iₙₐ Integral (A*ms/F)", "titleFontSize": 12.5, "values": [0,-100,-200,-300]}}},
      "layer": [
        {"data": {"values": [{"group":"Ctrl","value":-122.5,"sd":23.3},{"group":"Arr","value":-186,"sd":45}]},
         "mark": {"type": "bar", "stroke": "black", "strokeWidth": 2.2},
         "encoding": {
           "x": {"field": "group", "type": "nominal", "sort": ["Ctrl","Arr"], "scale": {"domain": ["Ctrl","Arr"], "paddingInner": 0.225, "paddingOuter": 0.2375, "align": 0.526}, "axis": {"title": null, "labelOffset": 11, "labelExpr": "datum.value === 'Ctrl' ? 'n= 21/6' : '19/6'"}},
           "color": {"field": "group", "type": "nominal", "scale": {"domain": ["SR","AF","Ctrl","Arr"], "range": ["#9b9b9b","#ff0000","#d4d4d4","#ff8000"]}, "legend": null}}},
        {"data": {"values": [{"value":0}]}, "mark": {"type": "rule", "color": "black", "strokeWidth": 1.8}, "encoding": {}},
        {"data": {"values": [{"group":"Ctrl","value":-122.5,"sd":23.3},{"group":"Arr","value":-186,"sd":45}]},
         "mark": {"type": "errorbar", "color": "#1a1a1a", "thickness": 1.3, "ticks": {"size": 15}},
         "encoding": {"x": {"field": "group", "type": "nominal"}, "yError": {"field": "sd"}}},
        {"data": {"values": [
           {"group":"Ctrl","value":-96.3,"col":0},{"group":"Ctrl","value":-107.5,"col":0},{"group":"Ctrl","value":-123,"col":0.4},{"group":"Ctrl","value":-128.5,"col":-0.6},{"group":"Ctrl","value":-158.3,"col":0},
           {"group":"Arr","value":-147,"col":-0.56},{"group":"Arr","value":-138,"col":0.4},{"group":"Arr","value":-168,"col":0},{"group":"Arr","value":-198,"col":0},{"group":"Arr","value":-218,"col":0},{"group":"Arr","value":-259,"col":0}]},
         "mark": {"type": "point", "filled": true, "color": "black", "opacity": 1, "size": 24, "shape": "circle"},
         "encoding": {
           "x": {"field": "group", "type": "nominal", "bandPosition": 0},
           "xOffset": {"field": "col", "type": "quantitative", "scale": {"domain": [-3, 3], "range": [-8.5, 39.5]}}}},
        {"data": {"values": [{"group":"Ctrl","value":0},{"group":"Arr","value":0}]},
         "mark": {"type": "text", "fontSize": 13, "baseline": "top", "dy": 3},
         "encoding": {"x": {"field": "group", "type": "nominal"}, "text": {"field": "group"}}},
        {"data": {"values": [{"p":"p=0.0405","value":-286}]},
         "mark": {"type": "text", "fontWeight": "normal", "fontSize": 11, "dx": -4, "color": "#222222"},
         "encoding": {"x": {"datum": "Arr", "type": "nominal", "bandPosition": 0}, "text": {"field": "p"}}},
        {"data": {"values": [{"label":"J","value":35.8}]},
         "mark": {"type": "text", "fontSize": 16, "align": "left", "dx": -88},
         "encoding": {"x": {"datum": "Ctrl", "type": "nominal", "bandPosition": 0}, "text": {"field": "label"}}}
      ]
    }
  ]
}
]
}
